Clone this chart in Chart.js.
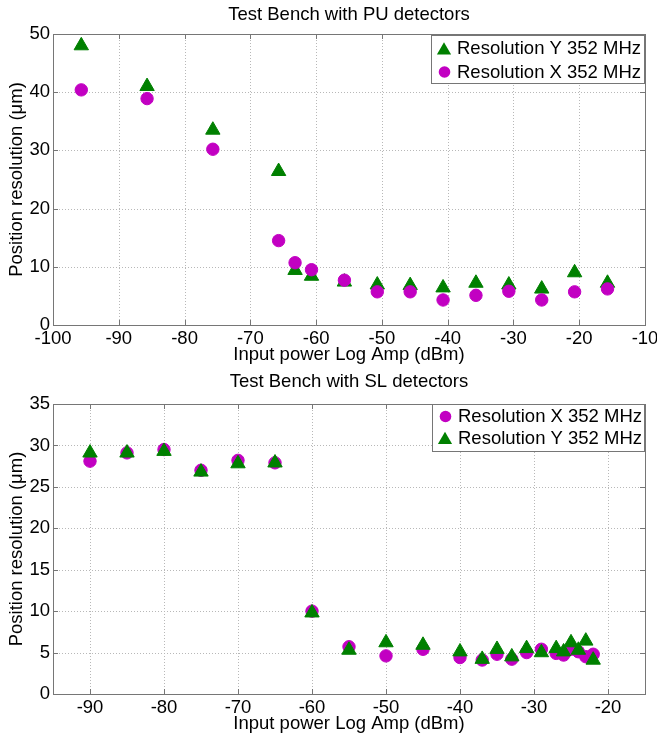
<!DOCTYPE html>
<html>
<head>
<meta charset="utf-8">
<script src="https://cdn.jsdelivr.net/npm/chart.js@4.4.1/dist/chart.umd.min.js"></script>
<style>
  html, body { margin: 0; padding: 0; background: #ffffff; }
  #wrap { position: relative; width: 657px; height: 737px; }
  canvas { position: absolute; left: 0; }
  #c1 { top: 0; }
  #c2 { top: 368px; }
</style>
</head>
<body>
<div id="wrap">
  <canvas id="c1" width="657" height="368"></canvas>
  <canvas id="c2" width="657" height="369"></canvas>
</div>
<script>
// ---------- Data: Test Bench with PU detectors ----------
const puPower = [-95.7, -85.7, -75.7, -65.7, -63.2, -60.7, -55.7, -50.7, -45.7, -40.7, -35.7, -30.7, -25.7, -20.7, -15.7];
const puResX  = [40.4, 38.9, 30.2, 14.5, 10.7, 9.5, 7.7, 5.7, 5.7, 4.3, 5.1, 5.8, 4.3, 5.7, 6.2];
const puResY  = [48.0, 41.0, 33.5, 26.4, 9.4, 8.4, 7.4, 6.9, 6.8, 6.4, 7.2, 6.9, 6.2, 9.0, 7.2];
const puXTicks = [-100, -90, -80, -70, -60, -50, -40, -30, -20, -10];
const puYTicks = [0, 10, 20, 30, 40, 50];

// ---------- Data: Test Bench with SL detectors ----------
const slPower = [-90, -85, -80, -75, -70, -65, -60, -55, -50, -45, -40, -37, -35, -33, -31, -29, -27, -26, -25, -24, -23, -22];
const slResX  = [28.1, 29.1, 29.5, 27.0, 28.2, 27.9, 10.0, 5.7, 4.6, 5.4, 4.4, 4.1, 4.8, 4.2, 5.0, 5.4, 4.9, 4.7, 5.4, 5.1, 4.5, 4.8];
const slResY  = [29.1, 29.1, 29.3, 26.8, 27.8, 27.9, 9.8, 5.3, 6.2, 5.9, 5.1, 4.2, 5.4, 4.5, 5.5, 5.0, 5.5, 5.1, 6.2, 5.3, 6.4, 4.1];
const slXTicks = [-90, -80, -70, -60, -50, -40, -30, -20];
const slYTicks = [0, 5, 10, 15, 20, 25, 30, 35];

const labelX = 'Resolution X 352 MHz';
const labelY = 'Resolution Y 352 MHz';
const xTitle = 'Input power Log Amp (dBm)';
const yTitle = 'Position resolution (\u03bcm)';

const MAGENTA = '#c200c2';
const GREEN = '#008000';
const FRAME = '#767676';
const FONT_FAMILY = "'Liberation Sans', Arial, Helvetica, sans-serif";
const FS = 18.5;
const fontMain = { family: FONT_FAMILY, size: FS, lineHeight: 20 / FS, weight: 'normal' };

function toPts(xs, ys) { return xs.map((x, i) => ({ x: x, y: ys[i] })); }

function drawMarker(ctx, style, color, x, y, r) {
  ctx.fillStyle = color;
  ctx.beginPath();
  if (style === 'circle') {
    ctx.arc(x, y, r, 0, Math.PI * 2);
  } else {
    const s = Math.sin(Math.PI / 3);
    ctx.moveTo(x, y - r);
    ctx.lineTo(x + r * s, y + r / 2);
    ctx.lineTo(x - r * s, y + r / 2);
    ctx.closePath();
  }
  ctx.fill();
}

const framePlugin = {
  id: 'matlabFrame',
  beforeDatasetsDraw(chart) {
    const { ctx, chartArea } = chart;
    const left = Math.round(chartArea.left), right = Math.round(chartArea.right);
    const top = Math.round(chartArea.top), bottom = Math.round(chartArea.bottom);
    const xs = chart.scales.x, ys = chart.scales.y;
    ctx.save();
    ctx.lineWidth = 1;
    // dotted grid
    ctx.strokeStyle = '#b8b8b8';
    ctx.setLineDash([1, 2]);
    xs.ticks.forEach(t => {
      const p = Math.round(xs.getPixelForValue(t.value)) + 0.5;
      if (p > left + 1 && p < right - 1) {
        ctx.beginPath(); ctx.moveTo(p, top); ctx.lineTo(p, bottom); ctx.stroke();
      }
    });
    ys.ticks.forEach(t => {
      const p = Math.round(ys.getPixelForValue(t.value)) + 0.5;
      if (p > top + 1 && p < bottom - 1) {
        ctx.beginPath(); ctx.moveTo(left, p); ctx.lineTo(right, p); ctx.stroke();
      }
    });
    ctx.setLineDash([]);
    // inward tick marks
    ctx.strokeStyle = FRAME;
    const tl = 5;
    xs.ticks.forEach(t => {
      const p = Math.round(xs.getPixelForValue(t.value)) + 0.5;
      ctx.beginPath();
      ctx.moveTo(p, bottom); ctx.lineTo(p, bottom - tl);
      ctx.moveTo(p, top); ctx.lineTo(p, top + tl);
      ctx.stroke();
    });
    ys.ticks.forEach(t => {
      const p = Math.round(ys.getPixelForValue(t.value)) + 0.5;
      ctx.beginPath();
      ctx.moveTo(left, p); ctx.lineTo(left + tl, p);
      ctx.moveTo(right, p); ctx.lineTo(right - tl, p);
      ctx.stroke();
    });
    // box
    ctx.strokeRect(left + 0.5, top + 0.5, right - left, bottom - top);
    ctx.restore();
  },
  afterDatasetsDraw(chart, args, opts) {
    if (!opts || !opts.rows) return;
    const { ctx, chartArea } = chart;
    const right = Math.round(chartArea.right), top = Math.round(chartArea.top);
    const x0 = right - opts.width, y0 = top + opts.offsetTop;
    ctx.save();
    ctx.fillStyle = '#ffffff';
    ctx.fillRect(x0, y0, opts.width, opts.height);
    ctx.strokeStyle = FRAME;
    ctx.lineWidth = 1;
    ctx.strokeRect(x0 + 0.5, y0 + 0.5, opts.width - 1, opts.height);
    ctx.font = 'normal ' + FS + 'px ' + FONT_FAMILY;
    ctx.textBaseline = 'middle';
    ctx.textAlign = 'left';
    opts.rows.forEach((row, i) => {
      const cy = y0 + opts.rowY[i];
      if (row.style === 'circle') {
        drawMarker(ctx, 'circle', row.color, x0 + 13.5, cy, 5.8);
      } else {
        drawMarker(ctx, 'triangle', row.color, x0 + 13, cy + 2, 8.2);
      }
      ctx.fillStyle = '#000000';
      ctx.fillText(row.text, x0 + 26, cy + 0.5);
    });
    ctx.restore();
  }
};

function makeChart(id, o) {
  const xTicks = o.xTicks, yTicks = o.yTicks;
  return new Chart(document.getElementById(id), {
    type: 'scatter',
    data: { datasets: o.datasets },
    plugins: [framePlugin],
    options: {
      responsive: false,
      animation: false,
      devicePixelRatio: 1,
      layout: { padding: { left: 0, right: 12, top: 0, bottom: 0 } },
      plugins: {
        legend: { display: false },
        tooltip: { enabled: false },
        title: {
          display: true, fullSize: false, text: o.title, color: '#000000', font: fontMain,
          padding: { top: o.titlePadTop, bottom: o.titlePadBottom }
        },
        matlabFrame: o.legend
      },
      scales: {
        x: {
          type: 'linear', min: o.xMin, max: o.xMax,
          afterBuildTicks: s => { s.ticks = xTicks.map(v => ({ value: v })); },
          afterFit: s => { s.height = 43; s.paddingLeft = 0; s.paddingRight = 0; },
          ticks: { color: '#000000', font: fontMain, padding: 4, autoSkip: false, maxRotation: 0, minRotation: 0 },
          grid: { display: false, drawTicks: false },
          border: { display: false },
          title: { display: true, text: xTitle, color: '#000000', font: fontMain, padding: { top: 0, bottom: 3 } }
        },
        y: {
          type: 'linear', min: o.yMin, max: o.yMax,
          afterBuildTicks: s => { s.ticks = yTicks.map(v => ({ value: v })); },
          afterFit: s => { s.width = 53; s.paddingTop = 0; s.paddingBottom = 0; },
          ticks: { color: '#000000', font: fontMain, padding: 3, autoSkip: false },
          grid: { display: false, drawTicks: false },
          border: { display: false },
          title: { display: true, text: yTitle, color: '#000000', font: fontMain, padding: { top: 7, bottom: 0 } }
        }
      }
    }
  });
}

const circleDs = (data) => ({
  label: labelX, data: data, pointStyle: 'circle', pointRadius: 6.2, pointHoverRadius: 6.2,
  backgroundColor: MAGENTA, borderColor: MAGENTA, borderWidth: 1, showLine: false
});
const triDs = (data) => ({
  label: labelY, data: data, pointStyle: 'triangle', pointRadius: 8.3, pointHoverRadius: 8.3,
  backgroundColor: GREEN, borderColor: GREEN, borderWidth: 1, showLine: false
});

makeChart('c1', {
  title: 'Test Bench with PU detectors',
  titlePadTop: 5, titlePadBottom: 9,
  xMin: -100, xMax: -10, yMin: 0, yMax: 50,
  xTicks: puXTicks, yTicks: puYTicks,
  datasets: [circleDs(toPts(puPower, puResX)), triDs(toPts(puPower, puResY))],
  legend: {
    width: 214, height: 48, offsetTop: 1, rowY: [13.5, 37],
    rows: [
      { style: 'triangle', color: GREEN, text: labelY },
      { style: 'circle', color: MAGENTA, text: labelX }
    ]
  }
});

makeChart('c2', {
  title: 'Test Bench with SL detectors',
  titlePadTop: 4, titlePadBottom: 12,
  xMin: -95, xMax: -15, yMin: 0, yMax: 35,
  xTicks: slXTicks, yTicks: slYTicks,
  datasets: [triDs(toPts(slPower, slResY)), circleDs(toPts(slPower, slResX))],
  legend: {
    width: 213, height: 47, offsetTop: 0, rowY: [12.5, 34],
    rows: [
      { style: 'circle', color: MAGENTA, text: labelX },
      { style: 'triangle', color: GREEN, text: labelY }
    ]
  }
});
</script>
</body>
</html>
